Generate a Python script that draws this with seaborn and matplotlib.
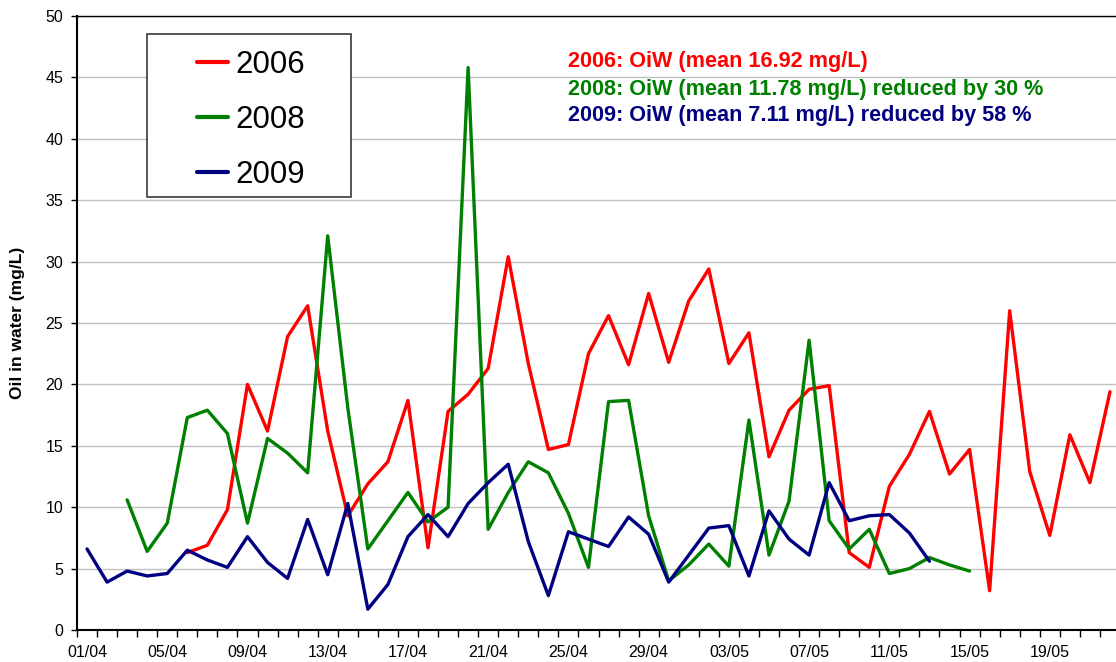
import numpy as np
import pandas as pd
import matplotlib
matplotlib.use("Agg")
import matplotlib.pyplot as plt
import matplotlib.dates as mdates
from matplotlib.lines import Line2D
from matplotlib.patches import Rectangle
from matplotlib.ticker import FixedLocator
import seaborn as sns

nan = np.nan

# Daily sampling dates (day/month axis shared by all campaigns)
days = pd.date_range("2009-04-01", "2009-05-22", freq="D")

# Oil in water, mg/L, one value per day (NaN = no sample)
oiw_2006 = [nan] * 5 + [
    6.3, 6.9, 9.8, 20.0, 16.2, 23.9, 26.4, 16.2, 9.3, 11.9,
    13.7, 18.7, 6.7, 17.8, 19.2, 21.3, 30.4, 21.7, 14.7, 15.1,
    22.5, 25.6, 21.6, 27.4, 21.8, 26.8, 29.4, 21.7, 24.2, 14.1,
    17.9, 19.6, 19.9, 6.3, 5.1, 11.7, 14.3, 17.8, 12.7, 14.7,
    3.2, 26.0, 12.9, 7.7, 15.9, 12.0, 19.4,
]
oiw_2008 = [nan] * 2 + [
    10.6, 6.4, 8.7, 17.3, 17.9, 16.0, 8.7, 15.6, 14.4, 12.8,
    32.1, 18.1, 6.6, 8.9, 11.2, 8.8, 10.0, 45.8, 8.2, 11.2,
    13.7, 12.8, 9.5, 5.1, 18.6, 18.7, 9.3, 4.0, 5.3, 7.0,
    5.2, 17.1, 6.1, 10.5, 23.6, 8.9, 6.6, 8.2, 4.6, 5.0,
    5.9, 5.3, 4.8,
] + [nan] * 7
oiw_2009 = [
    6.6, 3.9, 4.8, 4.4, 4.6, 6.5, 5.7, 5.1, 7.6, 5.5,
    4.2, 9.0, 4.5, 10.3, 1.7, 3.7, 7.6, 9.4, 7.6, 10.3,
    12.0, 13.5, 7.2, 2.8, 8.0, 7.4, 6.8, 9.2, 7.8, 3.9,
    6.1, 8.3, 8.5, 4.4, 9.7, 7.4, 6.1, 12.0, 8.9, 9.3,
    9.4, 7.9, 5.6,
] + [nan] * 9

years = ["2006", "2008", "2009"]
colors = ["#FF0000", "#008000", "#000080"]
means = [16.92, 11.78, 7.11]
reductions = [None, 30, 58]
tick_dates = pd.date_range("2009-04-01", "2009-05-19", freq="4D")
y_ticks = list(range(0, 51, 5))

df = pd.DataFrame({"date": days, "2006": oiw_2006, "2008": oiw_2008, "2009": oiw_2009})
df = df.melt(id_vars="date", var_name="year", value_name="oiw").dropna()

sns.set_theme(style="white")
plt.rcParams["font.family"] = ["Liberation Sans", "DejaVu Sans"]
plt.rcParams["text.color"] = "black"

W, H = 1116, 662
fig = plt.figure(figsize=(W / 100, H / 100), dpi=100)
ax = fig.add_axes([77 / W, 32 / H, 1043 / W, 614 / H])

ax.yaxis.grid(True, color="#c0c0c0", lw=1)
ax.xaxis.grid(False)
ax.set_axisbelow(True)

sns.lineplot(data=df, x="date", y="oiw", hue="year", hue_order=years,
             palette=colors, lw=2.4, estimator=None, sort=True,
             legend=False, ax=ax)

# x axis: one category slot per day, labels every 4 days
d0 = mdates.date2num(days[0])
d1 = mdates.date2num(days[-1])
ax.set_xlim(d0 - 0.5, d1 + 0.5)
ax.xaxis.set_major_locator(FixedLocator(mdates.date2num(tick_dates)))
ax.set_xticklabels([d.strftime("%d/%m") for d in tick_dates])
bounds = np.append(mdates.date2num(days) - 0.5, d1 + 0.5)
ax.xaxis.set_minor_locator(FixedLocator(bounds))
ax.tick_params(axis="x", which="major", length=0, pad=11, labelsize=11.5, colors="black")
ax.tick_params(axis="x", which="minor", bottom=True, length=5, width=1, color="black")

ax.set_ylim(0, 50)
ax.set_yticks(y_ticks)
ax.tick_params(axis="y", which="major", left=True, length=4, width=1, pad=6,
               labelsize=11.5, colors="black")

ax.set_xlabel("")
ax.set_ylabel("")
for side in ["left", "bottom"]:
    ax.spines[side].set_color("black")
    ax.spines[side].set_linewidth(1.5)
ax.spines["top"].set_color("black")
ax.spines["top"].set_linewidth(1.0)
ax.spines["right"].set_visible(False)

fig.text(18 / W, 1 - 323 / H, "Oil in water (mg/L)", rotation=90,
         ha="center", va="center", fontsize=12.5, fontweight="bold", color="black")

# Mean annotations
for i, (yr, col, m, red) in enumerate(zip(years, colors, means, reductions)):
    txt = f"{yr}: OiW (mean {m:.2f} mg/L)"
    if red is not None:
        txt += f" reduced by {red} %"
    fig.text(568 / W, 1 - (62 + 27 * i) / H, txt, color=col, fontsize=15.6,
             fontweight="bold", ha="left", va="center")

# Legend with a boxed frame
frame = Rectangle((147 / W, 1 - 197 / H), 204 / W, 163 / H, transform=fig.transFigure,
                  facecolor="white", edgecolor="#3a3a3a", lw=1.2, zorder=1)
fig.add_artist(frame)
handles = [Line2D([], [], color=c, lw=3) for c in colors]
leg = fig.legend(handles, years, loc="center", bbox_to_anchor=(251 / W, 1 - 120 / H),
                 frameon=False, fontsize=22.5, handlelength=1.0, handletextpad=0.25,
                 labelspacing=0.8)
for t in leg.get_texts():
    t.set_color("black")
leg.set_zorder(5)

fig.savefig("out.png", dpi=100)
